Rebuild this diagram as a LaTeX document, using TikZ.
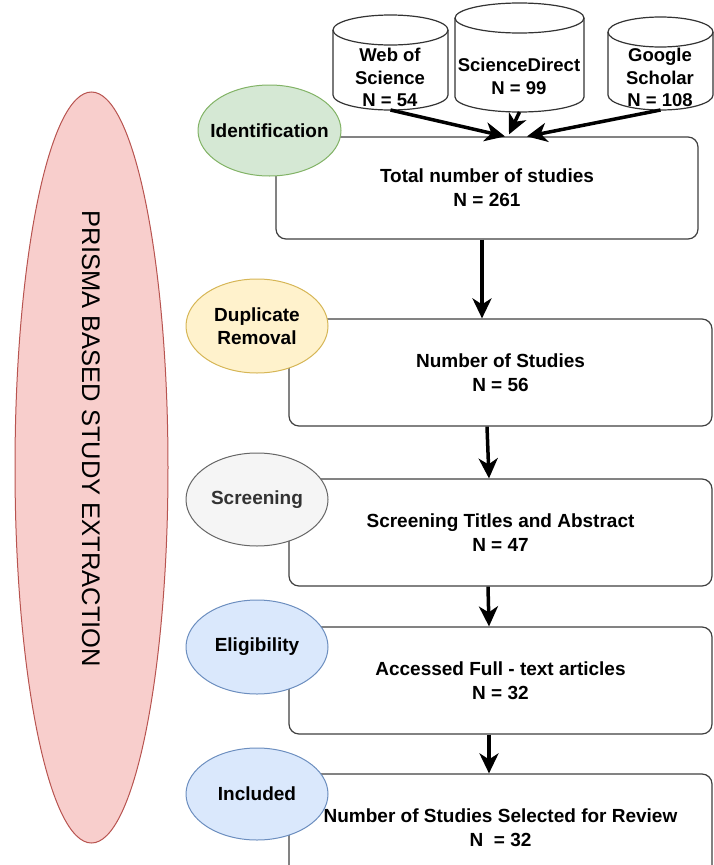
\documentclass[tikz,border=0pt]{standalone}
\usepackage{fontspec}
\setmainfont{Liberation Sans}
\usetikzlibrary{arrows.meta,shapes.geometric}
\definecolor{idfill}{HTML}{D5E8D4}
\definecolor{iddraw}{HTML}{82B366}
\definecolor{dupfill}{HTML}{FFF2CC}
\definecolor{dupdraw}{HTML}{D6B656}
\definecolor{scrfill}{HTML}{F5F5F5}
\definecolor{scrdraw}{HTML}{666666}
\definecolor{scrtext}{HTML}{333333}
\definecolor{bluefill}{HTML}{DAE8FC}
\definecolor{bluedraw}{HTML}{6C8EBF}
\definecolor{prfill}{HTML}{F8CECC}
\definecolor{prdraw}{HTML}{B85450}
\begin{document}
\begin{tikzpicture}[x=1pt,y=1pt,
	stepbox/.style={draw=black!75, line width=1.2pt, rounded corners=10pt, fill=white, minimum width=423pt, minimum height=107pt, inner sep=0pt, align=center, font=\fontsize{19}{24}\selectfont\bfseries},
	phase/.style={ellipse, line width=1pt, minimum width=142pt, minimum height=93pt, inner sep=0pt},
	phasetext/.style={align=center, inner sep=0pt, font=\fontsize{19}{23}\selectfont\bfseries},
	dbtext/.style={align=center, inner sep=0pt, font=\fontsize{18.5}{22.5}\selectfont\bfseries},
	arr/.style={line width=3.5pt, -{Stealth[length=20pt,width=19pt,inset=6pt]}}]
	\useasboundingbox (0,0) rectangle (714,-865);

	\node[ellipse, draw=prdraw, fill=prfill, line width=1pt, minimum width=153pt, minimum height=751pt] (prisma) at (91.5,-467.5) {};
	\node[rotate=-90, inner sep=0pt, font=\fontsize{25.5}{30}\selectfont] (prismatext) at (91,-439) {PRISMA BASED STUDY EXTRACTION};

	\node[stepbox, minimum width=422pt, minimum height=102pt] (b1) at (487,-188) {Total number of studies\\N = 261};
	\node[stepbox] (b2) at (500.5,-372.5) {Number of Studies\\N = 56};
	\node[stepbox] (b3) at (500.5,-532.5) {Screening Titles and Abstract\\N = 47};
	\node[stepbox] (b4) at (500.5,-680.5) {Accessed Full - text articles\\N = 32};
	\node[stepbox, minimum height=108pt] (b5) at (500.5,-828) {Number of Studies Selected for Review\\N~~= 32};

	\foreach \cx/\w/\yt/\yb/\name in {390.5/115/15/110/wosb, 519.5/129/3/112/sdb, 660.5/105/17/110/gsb}
	{
		\draw[line width=1.2pt, draw=black!80, fill=white] (\cx-\w/2,-\yt-15) -- (\cx-\w/2,-\yb+15) arc[start angle=180, end angle=360, x radius=\w/2, y radius=15] -- (\cx+\w/2,-\yt-15) arc[start angle=0, end angle=180, x radius=\w/2, y radius=15] -- cycle;
		\draw[line width=1.2pt, draw=black!80] (\cx-\w/2,-\yt-15) arc[start angle=180, end angle=360, x radius=\w/2, y radius=15];
		\coordinate (\name) at (\cx,-\yb);
	}
	\node[dbtext] (wos) at (390,-77.5) {Web of\\Science\\N = 54};
	\node[dbtext] (sd) at (519,-76.5) {ScienceDirect\\N = 99};
	\node[dbtext] (gs) at (660,-77.5) {Google\\Scholar\\N = 108};

	\draw[arr] (wosb) -- ([xshift=18pt]b1.north);
	\draw[arr] (sdb) -- ([xshift=22pt,yshift=2pt]b1.north);
	\draw[arr] (gsb) -- ([xshift=40pt]b1.north);
	\draw[arr] ([xshift=-5pt]b1.south) -- ([xshift=-18.5pt]b2.north);
	\draw[arr] ([xshift=-13.5pt]b2.south) -- ([xshift=-11.5pt]b3.north);
	\draw[arr] ([xshift=-12.5pt]b3.south) -- ([xshift=-11.5pt]b4.north);
	\draw[arr] ([xshift=-11.5pt]b4.south) -- ([xshift=-11.5pt]b5.north);

	\node[phase, draw=iddraw, fill=idfill, minimum width=143pt, minimum height=91pt] (idn) at (269.5,-130.5) {};
	\node[phase, draw=dupdraw, fill=dupfill, minimum height=94pt] (dup) at (257,-326) {};
	\node[phase, draw=scrdraw, fill=scrfill] (scr) at (257,-499.5) {};
	\node[phase, draw=bluedraw, fill=bluefill, minimum height=94pt] (elg) at (257,-647) {};
	\node[phase, draw=bluedraw, fill=bluefill, minimum height=92pt] (inc) at (257,-794) {};
	\node[phasetext] (idntext) at (idn) {Identification};
	\node[phasetext] (duptext) at (dup) {Duplicate\\Removal};
	\node[phasetext, text=scrtext] (scrtext) at (scr) {Screening};
	\node[phasetext] (elgtext) at (elg) {Eligibility};
	\node[phasetext] (inctext) at (inc) {Included};
\end{tikzpicture}
\end{document}
